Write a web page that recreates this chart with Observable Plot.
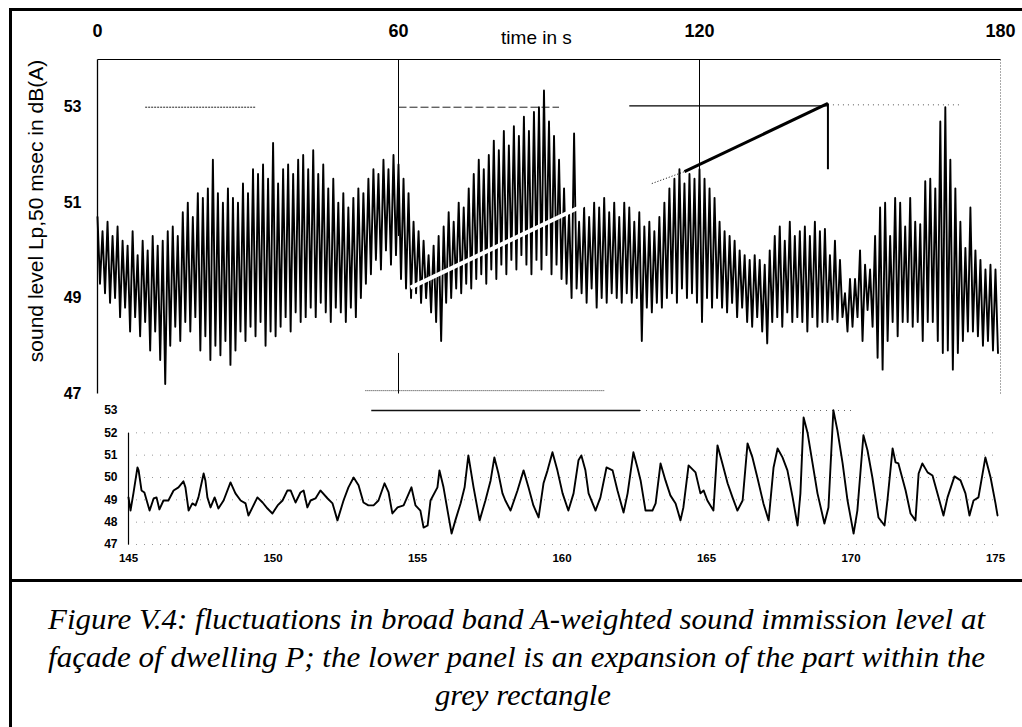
<!DOCTYPE html>
<html><head><meta charset="utf-8">
<script src="https://cdn.jsdelivr.net/npm/d3@7"></script>
<script src="https://cdn.jsdelivr.net/npm/@observablehq/plot@0.6"></script>
<style>
html,body{margin:0;padding:0;background:#fff;}
#fig{position:relative;width:1022px;height:727px;overflow:hidden;background:#fff;font-family:"Liberation Sans",Arial,sans-serif;}
#frame{position:absolute;left:9px;top:8px;width:1030px;height:740px;border-top:3px solid #000;border-left:3px solid #000;}
#sep{position:absolute;left:10px;top:579px;width:1012px;height:0;border-top:3px solid #000;}
#upper{position:absolute;left:0;top:0;}
#lower{position:absolute;left:0;top:400px;}
#ytitle{position:absolute;left:36px;top:211px;transform:translate(-50%,-50%) rotate(-90deg);font-size:21px;white-space:nowrap;color:#000;}
.cap{position:absolute;white-space:nowrap;font-family:"Liberation Serif","Times New Roman",serif;font-style:italic;font-size:30px;line-height:1;color:#000;transform-origin:0 0;}
</style></head><body>
<div id="fig">
  <div id="frame"></div>
  <div id="upper"></div>
  <div id="lower"></div>
  <div id="ytitle">sound level Lp,50 msec in dB(A)</div>
  <div id="sep"></div>
  <span class="cap" data-left="48" data-w="937" style="top:604px">Figure V.4: fluctuations in broad band A-weighted sound immission level at</span>
  <span class="cap" data-left="48" data-w="937" style="top:642px">façade of dwelling P; the lower panel is an expansion of the part within the</span>
  <span class="cap" data-center="523" data-w="176" style="top:680px">grey rectangle</span>
</div>
<script>
// ---------- upper panel data: per-second peak (hi) and trough (lo) levels, dB(A), t = 0..179 s ----------
const upperHi = [
 50.7,50.4,50.6,50.3,50.5,50.2,50.1,50.4,49.9,50.2,
 50.0,50.3,50.1,50.2,50.4,50.5,50.3,50.8,51.0,50.7,
 51.2,51.1,51.3,51.9,51.2,51.0,51.3,51.1,51.0,51.4,
 51.2,51.7,51.6,51.8,51.5,52.25,51.4,51.7,51.8,51.6,
 51.9,52.0,51.7,52.1,51.6,51.8,51.3,51.5,51.0,51.2,
 50.9,51.1,51.3,51.2,51.5,51.7,51.6,51.9,51.7,52.0,
 51.8,51.5,51.2,50.6,50.4,50.2,49.9,50.1,50.3,50.5,
 50.8,50.6,51.0,50.9,51.3,51.6,51.9,51.7,52.0,52.3,
 52.1,52.5,52.2,52.6,52.4,52.8,52.5,52.9,53.0,53.35,
 52.7,52.4,51.9,51.3,50.8,52.45,50.6,50.9,50.7,51.0,
 50.9,51.1,50.8,51.0,50.7,51.0,50.9,50.6,50.8,50.5,
 50.6,50.4,50.7,51.0,51.3,51.5,51.7,51.4,51.6,51.5,
 51.7,51.5,51.3,51.1,50.6,50.4,50.3,50.2,50.0,49.9,
 49.8,49.9,49.8,49.7,50.0,50.3,50.5,50.2,50.6,50.3,
 50.4,50.5,50.3,50.6,50.4,50.45,49.9,50.2,49.8,49.1,
 49.4,49.4,50.0,49.7,49.6,50.3,50.9,51.0,50.3,51.1,
 51.0,50.5,51.1,50.6,50.55,51.45,51.5,51.3,52.7,53.0,
 51.9,51.3,50.6,50.05,50.9,50.0,49.8,49.6,49.7,49.6
];
const upperLo = [
 49.3,49.1,48.9,49.0,48.6,48.8,48.3,48.6,48.2,48.5,
 47.9,48.3,47.7,47.2,48.0,48.4,48.1,48.5,48.3,48.6,
 47.9,48.2,47.7,48.0,47.8,48.1,47.6,47.9,48.3,48.1,
 48.4,48.2,48.5,48.0,48.3,48.2,48.4,48.6,48.3,48.7,
 48.5,48.6,48.8,48.6,48.9,48.7,48.5,48.8,48.7,48.5,
 48.8,48.6,49.0,49.3,49.5,49.8,49.6,50.0,49.7,49.9,
 49.4,49.2,49.0,49.1,48.9,49.0,48.7,48.5,48.1,48.9,
 49.0,49.2,49.1,49.3,49.2,49.4,49.5,49.3,49.6,49.4,
 49.7,49.5,49.8,49.6,49.9,49.7,49.5,49.8,49.6,49.9,
 49.5,49.7,49.4,49.3,49.0,49.2,49.1,48.9,49.2,48.8,
 49.0,48.9,49.1,49.0,48.9,49.1,48.9,49.0,48.1,48.8,
 48.7,48.9,48.8,49.0,49.1,48.9,49.2,49.0,49.1,48.9,
 48.5,49.0,48.8,49.0,48.8,48.7,48.9,48.6,48.8,48.5,
 48.4,48.6,48.3,48.05,48.5,48.6,48.4,48.7,48.5,48.6,
 48.5,48.3,48.6,48.4,48.5,48.5,48.55,48.5,48.6,48.3,
 48.4,48.6,48.1,48.75,48.4,47.75,47.5,48.1,48.5,48.2,
 48.5,48.5,48.4,48.5,48.1,48.5,48.5,48.1,47.85,47.9,
 47.5,47.85,48.1,48.3,48.3,48.2,48.0,48.1,47.9,47.85
];
const upperTicksX = [0, 60, 120, 180];
const upperTicksY = [47, 49, 51, 53];
const upperAxisTitle = [{label: "time in s", t: 87.5}];
// remnants of the grey rectangle / grid visible in the scan (time s, level dB)
const upperGuides = [
  {x1: 0,     y1: 54,    x2: 180,   y2: 54,    w: 1.2, c: "#000", d: null},
  {x1: 0,     y1: 47,    x2: 0,     y2: 54,    w: 1.3, c: "#000", d: null},
  {x1: 60,    y1: 54,    x2: 60,    y2: 50.3,  w: 1,   c: "#000", d: null},
  {x1: 60,    y1: 47.85, x2: 60,    y2: 47,    w: 1,   c: "#000", d: null},
  {x1: 120,   y1: 54,    x2: 120,   y2: 51.5,  w: 1,   c: "#000", d: null},
  {x1: 180,   y1: 54,    x2: 180,   y2: 47,    w: 1,   c: "#555", d: "1,2"},
  {x1: 9.5,   y1: 53,    x2: 31.5,  y2: 53,    w: 1,   c: "#222", d: "2,1"},
  {x1: 60,    y1: 53,    x2: 92,    y2: 53,    w: 1,   c: "#222", d: "8,3"},
  {x1: 106,   y1: 53.03, x2: 145.6, y2: 53.03, w: 1.2, c: "#000", d: null},
  {x1: 145.6, y1: 53.05, x2: 172,   y2: 53.05, w: 1,   c: "#555", d: "1,4"},
  {x1: 53.4,  y1: 47.06, x2: 101,   y2: 47.06, w: 1,   c: "#333", d: "1,1"},
  {x1: 110.5, y1: 51.4,  x2: 117,   y2: 51.65, w: 1,   c: "#000", d: "1,2"},
  {x1: 117,   y1: 51.65, x2: 145.6, y2: 53.08, w: 3,   c: "#000", d: null},
  {x1: 145.6, y1: 53.08, x2: 145.6, y2: 51.7,  w: 2,   c: "#000", d: null}
];
const upperWhiteStreak = [{x1: 62.4, y1: 49.22, x2: 97, y2: 50.95}];

// ---------- lower panel data: expanded trace 145..175 s ----------
const lowerT = [
 145.00,145.07,145.17,145.31,145.35,145.45,145.55,145.73,145.87,145.97,
 146.07,146.21,146.38,146.56,146.73,146.90,146.97,147.08,147.21,147.32,
 147.42,147.60,147.66,147.73,147.84,147.98,148.11,148.29,148.53,148.70,
 148.88,149.05,149.15,149.29,149.46,149.64,149.81,149.98,150.16,150.33,
 150.50,150.61,150.78,150.95,151.06,151.19,151.30,151.47,151.64,151.89,
 152.06,152.23,152.44,152.61,152.79,152.96,153.13,153.30,153.48,153.65,
 153.86,154.00,154.13,154.31,154.52,154.79,154.93,155.10,155.21,155.35,
 155.45,155.69,155.76,155.90,156.04,156.18,156.31,156.49,156.63,156.76,
 156.94,157.15,157.35,157.53,157.66,157.80,157.94,158.04,158.22,158.46,
 158.67,158.84,159.01,159.19,159.36,159.50,159.67,159.84,160.02,160.22,
 160.40,160.57,160.67,160.81,160.92,161.16,161.33,161.54,161.75,161.92,
 162.13,162.27,162.47,162.61,162.72,162.89,163.13,163.24,163.41,163.58,
 163.75,163.93,164.10,164.20,164.38,164.62,164.79,164.90,165.03,165.24,
 165.38,165.55,165.73,165.90,166.07,166.25,166.42,166.59,166.76,166.97,
 167.15,167.32,167.46,167.63,167.80,167.98,168.15,168.25,168.36,168.50,
 168.67,168.84,169.08,169.22,169.39,169.53,169.71,169.88,170.09,170.22,
 170.43,170.57,170.74,170.95,171.16,171.26,171.44,171.54,171.64,171.89,
 172.06,172.23,172.34,172.47,172.65,172.82,172.99,173.20,173.34,173.58,
 173.79,173.96,174.10,174.24,174.41,174.65,174.83,175.00,175.07
];
const lowerL = [
 49.11,48.52,49.29,50.45,50.32,49.42,49.33,48.52,49.06,49.11,
 48.57,48.97,48.97,49.42,49.56,49.83,49.56,48.52,48.84,48.75,
 49.11,50.18,49.87,49.11,48.66,49.11,48.61,48.97,49.78,49.29,
 48.97,48.84,48.30,48.66,49.11,48.88,48.61,48.39,48.75,48.97,
 49.42,49.42,48.88,49.33,49.42,48.66,48.97,49.06,49.42,49.06,
 48.84,48.08,48.97,49.56,50.00,49.65,48.88,48.75,48.75,48.97,
 49.74,49.33,48.39,48.66,48.75,49.56,48.75,48.52,47.76,47.85,
 48.97,49.56,50.32,49.56,48.52,47.49,48.08,48.84,49.56,50.99,
 49.56,48.08,48.97,49.87,50.90,50.18,49.29,48.97,48.52,49.42,
 50.32,49.56,48.75,48.21,49.74,50.32,51.13,50.32,49.29,48.52,
 49.29,50.77,50.99,50.32,49.29,48.52,49.11,50.45,50.32,49.42,
 48.43,49.29,51.13,50.45,49.87,48.52,48.52,48.84,50.63,49.87,
 49.20,48.84,48.08,48.66,50.54,50.23,49.29,49.42,48.97,48.52,
 51.44,50.63,49.74,49.11,48.52,48.97,51.53,50.90,50.00,48.84,
 48.08,50.45,51.30,50.90,50.32,49.11,47.85,49.29,52.69,51.98,
 50.63,49.29,47.94,48.66,53.01,52.11,50.63,48.97,47.49,48.52,
 51.89,51.22,50.00,48.21,47.85,48.97,51.30,50.68,50.63,49.42,
 48.39,48.08,50.18,50.63,50.23,50.09,49.29,48.30,49.11,50.05,
 49.87,49.29,48.30,48.97,49.11,50.90,50.00,48.84,48.30
];
const lowerTicksX = [145, 150, 155, 160, 165, 170, 175];
const lowerTicksY = [47, 48, 49, 50, 51, 52, 53];
const lowerGrid = [47, 48, 49, 50, 51, 52];
const lowerGuides = [
  {x1: 145,   y1: 47, x2: 145,   y2: 52, w: 1.2, c: "#000", d: null},
  {x1: 153.4, y1: 53, x2: 162.7, y2: 53, w: 1.3, c: "#111", d: null},
  {x1: 162.7, y1: 53, x2: 170,   y2: 53, w: 1,   c: "#666", d: "1,5"}
];

// ---------- build ----------
const upperPts = [];
upperHi.forEach((h, i) => {
  upperPts.push({t: i, v: h});
  upperPts.push({t: i + 0.5, v: upperLo[i]});
});
const lowerPts = lowerT.map((t, i) => ({t, v: lowerL[i]}));

const guideMarks = (arr) => arr.map(g => Plot.link([g], {
  x1: "x1", y1: "y1", x2: "x2", y2: "y2",
  stroke: g.c, strokeWidth: g.w, strokeDasharray: g.d || undefined
}));

const upper = Plot.plot({
  width: 1022, height: 410,
  marginLeft: 97, marginRight: 22, marginTop: 59, marginBottom: 17,
  x: {domain: [0, 180]},
  y: {domain: [47, 54]},
  style: {fontFamily: "'Liberation Sans', Arial, sans-serif", background: "transparent", color: "#000", overflow: "visible"},
  marks: [
    ...guideMarks(upperGuides.filter(g => g.w < 2)),
    Plot.line(upperPts, {x: "t", y: "v", stroke: "#000", strokeWidth: 1.9}),
    Plot.link(upperWhiteStreak, {x1: "x1", y1: "y1", x2: "x2", y2: "y2", stroke: "#fff", strokeWidth: 4}),
    ...guideMarks(upperGuides.filter(g => g.w >= 2)),
    Plot.axisX({anchor: "top", ticks: upperTicksX, tickFormat: "d", tickSize: 0, tickPadding: 23, label: null, fontSize: 18, fontWeight: "bold"}),
    Plot.axisY({ticks: upperTicksY, tickFormat: "d", tickSize: 0, tickPadding: 16, label: null, fontSize: 16, fontWeight: "bold"}),
    Plot.text(upperAxisTitle, {x: "t", text: "label", frameAnchor: "top", dy: -29, fontSize: 19})
  ]
});
document.getElementById("upper").appendChild(upper);

const lower = Plot.plot({
  width: 1022, height: 175,
  marginLeft: 128, marginRight: 27, marginTop: 10, marginBottom: 31,
  x: {domain: [145, 175]},
  y: {domain: [47, 53]},
  style: {fontFamily: "'Liberation Sans', Arial, sans-serif", background: "transparent", color: "#000"},
  marks: [
    Plot.ruleY(lowerGrid, {stroke: "#999", strokeDasharray: "1,7", strokeWidth: 1}),
    ...guideMarks(lowerGuides),
    Plot.line(lowerPts, {x: "t", y: "v", stroke: "#000", strokeWidth: 1.9}),
    Plot.axisX({ticks: lowerTicksX, tickFormat: "d", tickSize: 0, tickPadding: 9, label: null, fontSize: 11.5, fontWeight: "bold"}),
    Plot.axisY({ticks: lowerTicksY, tickFormat: "d", tickSize: 0, tickPadding: 11, label: null, fontSize: 12, fontWeight: "bold"})
  ]
});
document.getElementById("lower").appendChild(lower);

// fit caption lines to the widths of the scanned text
document.querySelectorAll(".cap").forEach(el => {
  const w = el.getBoundingClientRect().width;
  const target = +el.dataset.w;
  const s = target / w;
  const left = el.dataset.center ? (+el.dataset.center - target / 2) : +el.dataset.left;
  el.style.left = left + "px";
  el.style.transform = `scaleX(${s})`;
});
</script>
</body></html>
